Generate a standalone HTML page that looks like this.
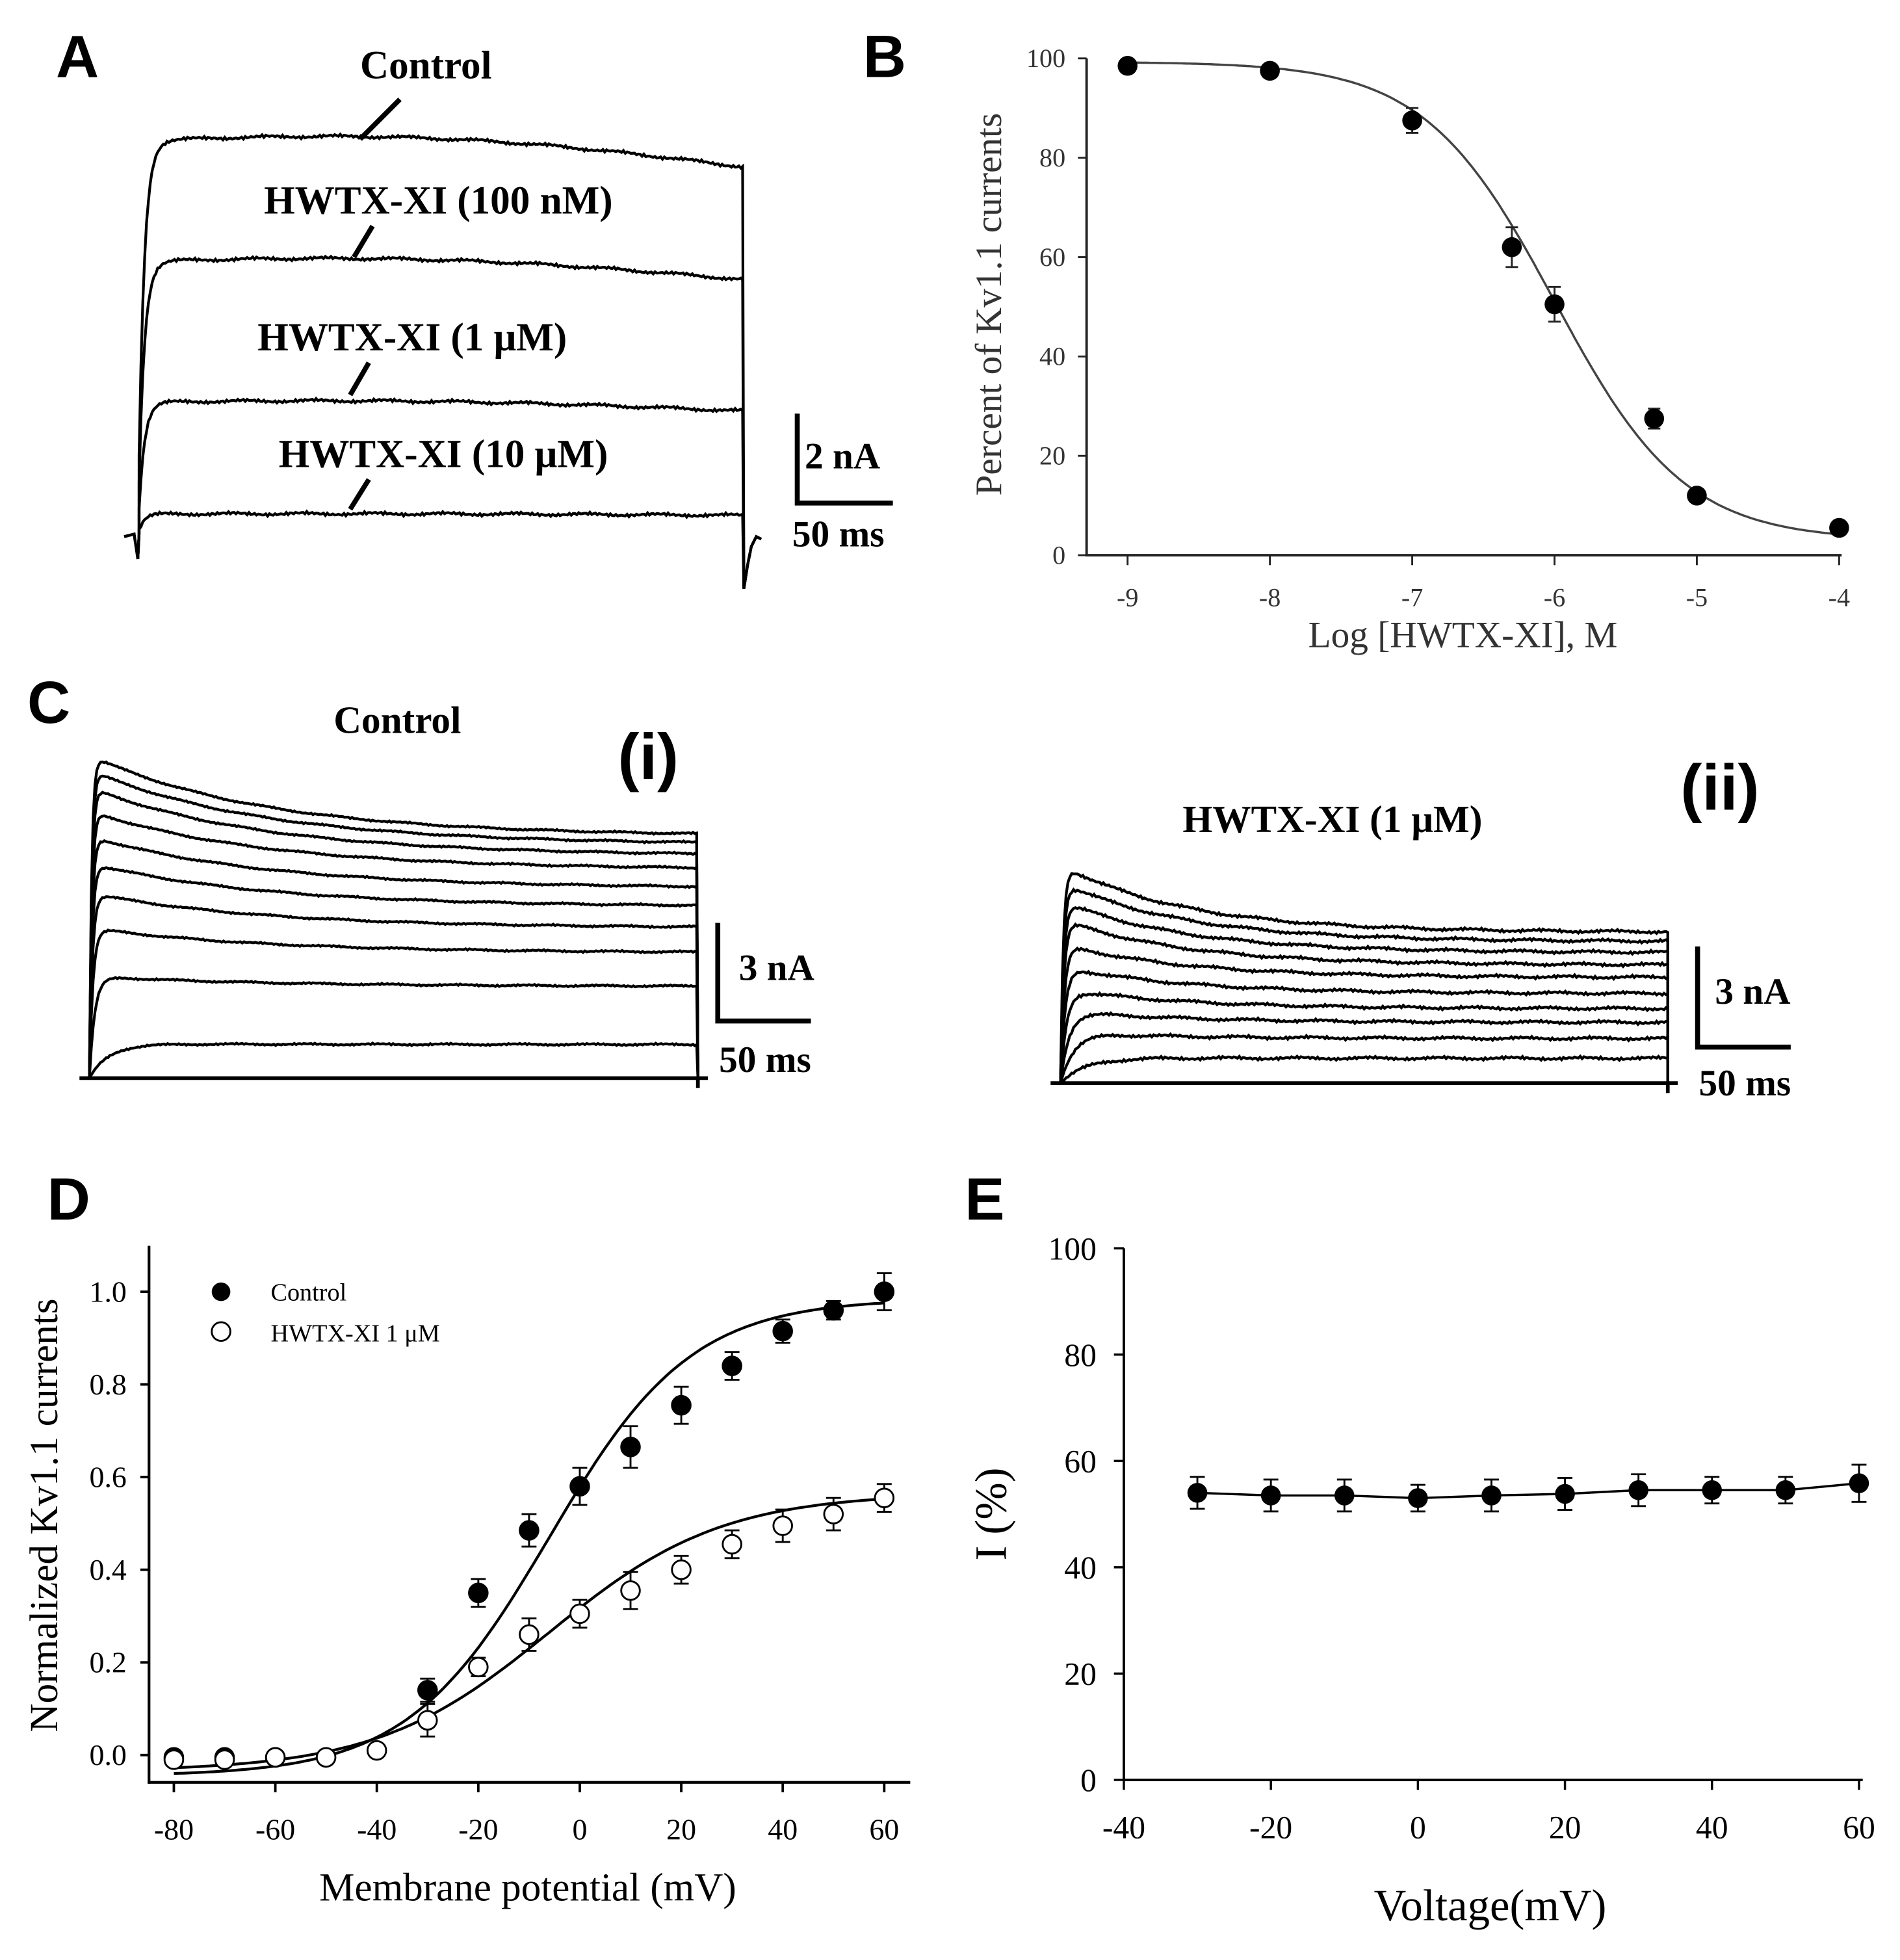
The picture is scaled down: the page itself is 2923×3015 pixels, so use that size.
<!DOCTYPE html>
<html><head><meta charset="utf-8">
<style>
html,body{margin:0;padding:0;background:#fff;}
svg{display:block;}
.ser{font-family:"Liberation Serif","Noto Serif CJK SC",serif;}
.san{font-family:"Liberation Sans","Noto Sans CJK SC",sans-serif;}
</style></head>
<body>
<svg id="fig" width="2923" height="3015" viewBox="0 0 1530 1578" preserveAspectRatio="none" xmlns="http://www.w3.org/2000/svg">
<rect width="1530" height="1578" fill="#fff"/>
<text x="45" y="62" class="san" font-size="48" font-weight="bold">A</text>
<text x="695" y="62" class="san" font-size="48" font-weight="bold">B</text>
<text x="22" y="582" class="san" font-size="48" font-weight="bold">C</text>
<text x="38" y="982" class="san" font-size="48" font-weight="bold">D</text>
<text x="777" y="982" class="san" font-size="48" font-weight="bold">E</text>

<g class="ser" font-weight="bold" font-size="32" text-anchor="middle" fill="#000">
<text x="343" y="63">Control</text>
<text x="353" y="172">HWTX-XI (100 nM)</text>
<text x="332" y="282">HWTX-XI (1 μM)</text>
<text x="357" y="376">HWTX-XI (10 μM)</text>
</g>
<g stroke="#000" stroke-width="4">
<line x1="322" y1="80" x2="290" y2="112"/>
<line x1="300" y1="182" x2="285" y2="207"/>
<line x1="297" y1="292" x2="282" y2="318"/>
<line x1="297" y1="386" x2="282" y2="410"/>
</g>
<g>
<path d="M642,333 V405 H719" fill="none" stroke="#000" stroke-width="4"/>
<text x="648" y="377" class="ser" font-weight="bold" font-size="30">2 nA</text>
<text x="638" y="440" class="ser" font-weight="bold" font-size="30">50 ms</text>
</g>
<g id="tracesA"></g>

<text x="320" y="590" class="ser" font-weight="bold" font-size="31" text-anchor="middle">Control</text>
<text x="522" y="627" class="san" font-weight="bold" font-size="52" text-anchor="middle">(i)</text>
<text x="1073" y="670" class="ser" font-weight="bold" font-size="31" text-anchor="middle">HWTX-XI (1 μM)</text>
<text x="1385" y="652" class="san" font-weight="bold" font-size="52" text-anchor="middle">(ii)</text>
<g>
<path d="M578,743 V822 H653" fill="none" stroke="#000" stroke-width="4"/>
<text x="595" y="789" class="ser" font-weight="bold" font-size="30">3 nA</text>
<text x="579" y="863" class="ser" font-weight="bold" font-size="30">50 ms</text>
</g>
<g>
<path d="M1367,762 V843 H1442" fill="none" stroke="#000" stroke-width="4"/>
<text x="1381" y="808" class="ser" font-weight="bold" font-size="30">3 nA</text>
<text x="1368" y="882" class="ser" font-weight="bold" font-size="30">50 ms</text>
</g>
<g id="tracesC"></g>

<g id="chartB"></g>
<g id="chartD"></g>
<g id="chartE"></g>
</svg>
<script>
// Panel A: steady current levels (nA)
const aLevels = [8.8, 6.1, 2.95, 0.45];
// Panel C(i): peak and end currents (nA)
const ciPeak = [9.89, 9.43, 8.9, 8.18, 7.41, 6.58, 5.67, 4.6, 3.12, 1.05, 0];
const ciEnd  = [7.41, 7.15, 6.81, 6.39, 5.82, 5.25, 4.6, 3.84, 2.81, 1.03, 0];
// Panel C(ii)
const ciiPeak = [6.52, 6.0, 5.44, 4.89, 4.15, 3.48, 2.81, 2.15, 1.5, 0.76, 0];
const ciiEnd  = [4.5, 4.22, 3.89, 3.52, 3.15, 2.67, 2.22, 1.81, 1.33, 0.74, 0];
// Panel B
const bX = [-9, -8, -7, -6.3, -6, -5.3, -5, -4];
const bY = [98.5, 97.5, 87.5, 62, 50.5, 27.5, 12, 5.5];
const bErr = [0.8, 0.8, 2.5, 4, 3.5, 2, 1, 0.8];
const bTicksX = [-9, -8, -7, -6, -5, -4];
const bTicksY = [0, 20, 40, 60, 80, 100];
// Panel D
const dV = [-80, -70, -60, -50, -40, -30, -20, -10, 0, 10, 20, 30, 40, 50, 60];
const dCtrl = [-0.005, -0.005, -0.005, null, null, 0.14, 0.35, 0.485, 0.58, 0.665, 0.755, 0.84, 0.915, 0.96, 1.0];
const dCtrlErr = [0.01, 0.01, 0.01, null, null, 0.025, 0.03, 0.035, 0.04, 0.045, 0.04, 0.03, 0.025, 0.02, 0.04];
const dHw = [-0.01, -0.01, -0.005, -0.005, 0.01, 0.075, 0.19, 0.26, 0.305, 0.355, 0.40, 0.455, 0.495, 0.52, 0.555];
const dHwErr = [0.01, 0.01, 0.01, 0.01, 0.01, 0.035, 0.02, 0.035, 0.03, 0.04, 0.03, 0.03, 0.035, 0.035, 0.03];
const dTicksX = [-80, -60, -40, -20, 0, 20, 40, 60];
const dTicksY = [0.0, 0.2, 0.4, 0.6, 0.8, 1.0];
// Panel E
const eV = [-30, -20, -10, 0, 10, 20, 30, 40, 50, 60];
const eI = [54, 53.5, 53.5, 53, 53.5, 53.8, 54.5, 54.5, 54.5, 55.8];
const eErr = [3, 3, 3, 2.5, 3, 3, 3, 2.5, 2.5, 3.5];
const eTicksX = [-40, -20, 0, 20, 40, 60];
const eTicksY = [0, 20, 40, 60, 80, 100];

const NS = "http://www.w3.org/2000/svg";
function mk(tag, attrs, parent){const e=document.createElementNS(NS,tag);for(const k in attrs)e.setAttribute(k,attrs[k]);parent.appendChild(e);return e;}
function wob(x,i,amp){return amp*(Math.sin(x*2.7+i*1.3)*0.6+Math.sin(x*1.9+i*2.1)*0.4+Math.sin(x*0.11+i)*0.7);}

// Panel A traces
(function(){
  const g=document.getElementById('tracesA');
  const x0=111,x1=599,base=430,pxPerNa=36;
  aLevels.forEach((lv,i)=>{
    let d=`M100,${base+2} L${x0-3},${base} L${x0},${base+20} L${x0+1},${base}`;
    for(let x=x0+1;x<=x1;x+=1.5){
      const t=x-x0;
      const shape=(1-Math.exp(-t/4.5))*(1+0.04*Math.sin(Math.PI*t/500)-0.07*t/487);
      const y=base-lv*pxPerNa*shape+wob(x,i,1.1);
      d+=` L${x.toFixed(1)},${y.toFixed(1)}`;
    }
    d+=` L${x1},${base+44} L${x1+3},${base+25} L${x1+6},${base+10} L${x1+10},${base+2} L${x1+14},${base+4}`;
    const p=mk('path',{d:d,fill:'none',stroke:'#000','stroke-width':2.2},g);
    
    
  });
})();

// Panel C traces
function drawC(peaks,ends,x0,x1,base,pxPerNa,noise,tau){
  const g=document.getElementById('tracesC');
  mk('path',{d:`M${x0-8},${base} H${x1+8} M${x1},${base} v8`,stroke:'#000','stroke-width':3,fill:'none'},g);
  peaks.forEach((pk,i)=>{
    if(pk<=0)return;
    const en=ends[i];
    const tr=1.5+30/(1+pk*pk);
    let d=`M${x0},${base}`;
    for(let x=x0;x<=x1;x+=1.5){
      const t=x-x0;
      const rise=1-Math.exp(-t/tr);
      const val=(en+(pk-en)*Math.exp(-t/tau))*rise;
      const y=base-val*pxPerNa+wob(x,i,noise)*Math.min(1,t/8);
      d+=` L${x.toFixed(1)},${y.toFixed(1)}`;
    }
    d+=` L${x1},${base}`;
    const p=mk('path',{d:d,fill:'none',stroke:'#000','stroke-width':2.2},g);
    
    
  });
}
drawC(ciPeak,ciEnd,72,562,868,26.3,0.6,140);
drawC(ciiPeak,ciiEnd,854,1343,872,27,1.0,100);

// Panel B
(function(){
  const g=document.getElementById('chartB');
  const sx=v=>908+(v+9)*114.6, sy=v=>447-v*4.0;
  mk('line',{x1:875,y1:47,x2:875,y2:448,stroke:'#222','stroke-width':2},g);
  mk('line',{x1:874,y1:447,x2:1483,y2:447,stroke:'#222','stroke-width':2},g);
  bTicksY.forEach(v=>{
    mk('line',{x1:868,y1:sy(v),x2:875,y2:sy(v),stroke:'#222','stroke-width':1.5},g);
    const t=mk('text',{x:858,y:sy(v)+7,'text-anchor':'end','font-size':21,fill:'#333',class:'ser'},g);t.textContent=v;
    
    
  });
  bTicksX.forEach(v=>{
    mk('line',{x1:sx(v),y1:447,x2:sx(v),y2:455,stroke:'#222','stroke-width':1.5},g);
    const t=mk('text',{x:sx(v),y:488,'text-anchor':'middle','font-size':21,fill:'#333',class:'ser'},g);t.textContent=v;
    
    
  });
  const xl=mk('text',{x:1178,y:521,'text-anchor':'middle','font-size':30,fill:'#333',class:'ser'},g);xl.textContent='Log [HWTX-XI], M';
  
  
  const yl=mk('text',{x:0,y:0,transform:'translate(806,245) rotate(-90)','text-anchor':'middle','font-size':30,fill:'#333',class:'ser'},g);yl.textContent='Percent of Kv1.1 currents';
  
  
  let d='';
  for(let x=-9;x<=-4.0001+0.0001;x+=0.02){const y=3+(99.3-3)/(1+Math.pow(10,(x+6.0)*0.95));d+=(d?' L':'M')+sx(x).toFixed(1)+','+sy(y).toFixed(1);}
  const c=mk('path',{d:d,fill:'none',stroke:'#444','stroke-width':1.8},g);
  
  
  bX.forEach((x,i)=>{
    const X=sx(x),Y=sy(bY[i]),e=bErr[i]*4;
    mk('path',{d:`M${X},${Y-e}V${Y+e}M${X-5},${Y-e}H${X+5}M${X-5},${Y+e}H${X+5}`,stroke:'#222','stroke-width':1.5,fill:'none'},g);
    const m=mk('circle',{cx:X,cy:Y,r:8,fill:'#000'},g);
    
    
  });
})();

// Panel D
(function(){
  const g=document.getElementById('chartD');
  const sx=v=>140+(v+80)*4.086, sy=v=>1413-v*373;
  mk('line',{x1:120,y1:1003,x2:120,y2:1436,stroke:'#000','stroke-width':2.2},g);
  mk('line',{x1:119,y1:1435,x2:733,y2:1435,stroke:'#000','stroke-width':2.2},g);
  dTicksY.forEach(v=>{
    mk('line',{x1:113,y1:sy(v),x2:120,y2:sy(v),stroke:'#000','stroke-width':2},g);
    const t=mk('text',{x:102,y:sy(v)+8,'text-anchor':'end','font-size':24,class:'ser'},g);t.textContent=v.toFixed(1);
    
    
  });
  dTicksX.forEach(v=>{
    mk('line',{x1:sx(v),y1:1435,x2:sx(v),y2:1443,stroke:'#000','stroke-width':2},g);
    const t=mk('text',{x:sx(v),y:1481,'text-anchor':'middle','font-size':24,class:'ser'},g);t.textContent=v;
    
    
  });
  const xl=mk('text',{x:425,y:1530,'text-anchor':'middle','font-size':32,class:'ser'},g);xl.textContent='Membrane potential (mV)';
  
  
  const yl=mk('text',{x:0,y:0,transform:'translate(46,1220) rotate(-90)','text-anchor':'middle','font-size':32,class:'ser'},g);yl.textContent='Normalized Kv1.1 currents';
  
  
  function fit(b,top,vh,k){let d='';for(let v=-80;v<=60.001;v+=1){const y=b+(top-b)/(1+Math.exp((vh-v)/k));d+=(d?' L':'M')+sx(v).toFixed(1)+','+sy(y).toFixed(1);}return d;}
  const f1=mk('path',{d:fit(-0.045,0.985,-6,14),fill:'none',stroke:'#000','stroke-width':2.2},g);
  
  
  const f2=mk('path',{d:fit(-0.035,0.565,-6,17),fill:'none',stroke:'#000','stroke-width':2.2},g);
  
  
  function pts(vals,errs,filled,name){
    vals.forEach((v,i)=>{
      if(v===null)return;
      const X=sx(dV[i]),Y=sy(v),e=errs[i]*373;
      mk('path',{d:`M${X},${Y-e}V${Y+e}M${X-6},${Y-e}H${X+6}M${X-6},${Y+e}H${X+6}`,stroke:'#000','stroke-width':1.5,fill:'none'},g);
      const c=mk('circle',{cx:X,cy:Y,r:7.5,fill:filled?'#000':'#fff',stroke:'#000','stroke-width':1.5},g);
      
      
    });
  }
  pts(dCtrl,dCtrlErr,true,'data-point-control');
  pts(dHw,dHwErr,false,'data-point-hwtx');
  const l1=mk('circle',{cx:178,cy:1040,r:7.5,fill:'#000'},g);
  
  
  const t1=mk('text',{x:218,y:1047,'font-size':20,class:'ser'},g);t1.textContent='Control';
  
  
  const l2=mk('circle',{cx:178,cy:1072,r:7.5,fill:'#fff',stroke:'#000','stroke-width':1.5},g);
  
  
  const t2=mk('text',{x:218,y:1080,'font-size':20,class:'ser'},g);t2.textContent='HWTX-XI 1 μM';
  
  
})();

// Panel E
(function(){
  const g=document.getElementById('chartE');
  const sx=v=>905+(v+40)*5.92, sy=v=>1433-v*4.28;
  mk('line',{x1:905,y1:1005,x2:905,y2:1434,stroke:'#000','stroke-width':2},g);
  mk('line',{x1:904,y1:1433,x2:1500,y2:1433,stroke:'#000','stroke-width':2},g);
  eTicksY.forEach(v=>{
    mk('line',{x1:897,y1:sy(v),x2:905,y2:sy(v),stroke:'#000','stroke-width':1.8},g);
    const t=mk('text',{x:883,y:sy(v)+9,'text-anchor':'end','font-size':26,class:'ser'},g);t.textContent=v;
    
    
  });
  eTicksX.forEach(v=>{
    mk('line',{x1:sx(v),y1:1433,x2:sx(v),y2:1441,stroke:'#000','stroke-width':1.8},g);
    const t=mk('text',{x:sx(v),y:1480,'text-anchor':'middle','font-size':26,class:'ser'},g);t.textContent=v;
    
    
  });
  const xl=mk('text',{x:1200,y:1546,'text-anchor':'middle','font-size':36,class:'ser'},g);xl.textContent='Voltage(mV)';
  
  
  const yl=mk('text',{x:0,y:0,transform:'translate(810,1219) rotate(-90)','text-anchor':'middle','font-size':36,class:'ser'},g);yl.textContent='I (%)';
  
  
  let d='';
  eV.forEach((v,i)=>{d+=(d?' L':'M')+sx(v)+','+sy(eI[i]);});
  const ln=mk('path',{d:d,fill:'none',stroke:'#000','stroke-width':1.8},g);
  
  
  eV.forEach((v,i)=>{
    const X=sx(v),Y=sy(eI[i]),e=eErr[i]*4.28;
    mk('path',{d:`M${X},${Y-e}V${Y+e}M${X-6},${Y-e}H${X+6}M${X-6},${Y+e}H${X+6}`,stroke:'#000','stroke-width':1.5,fill:'none'},g);
    const c=mk('circle',{cx:X,cy:Y,r:8,fill:'#000'},g);
    
    
  });
})();
</script>
</body></html>
